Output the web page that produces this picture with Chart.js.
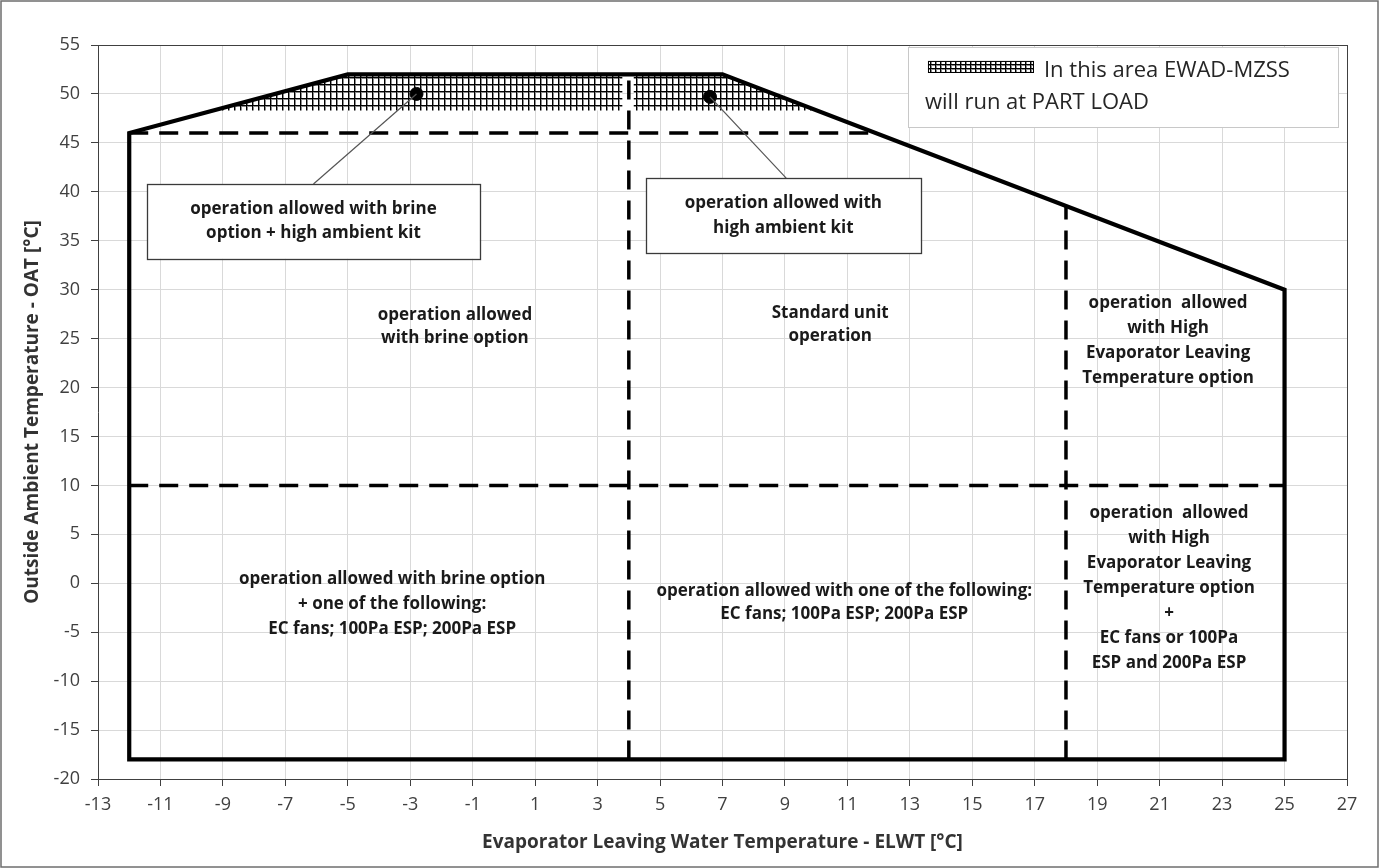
<!DOCTYPE html>
<html>
<head>
<meta charset="utf-8">
<script src="https://cdn.jsdelivr.net/npm/chart.js@4/dist/chart.umd.min.js"></script>
<style>
  html, body { margin: 0; padding: 0; background: #fff; }
  #wrap { width: 1379px; height: 868px; position: relative; }
</style>
</head>
<body>
<div id="wrap"><canvas id="c" width="1379" height="868"></canvas></div>
<script>
// Operating envelope (ELWT [°C] vs OAT [°C])
const envelopeX = [-12, -12, -5, 7, 25, 25, -12];
const envelopeY = [-18, 46, 52, 52, 30, -18, -18];

// Dashed limit lines
const limit46X = [-12, 11.8];
const limit46Y = [46, 46];
const limit10X = [-12, 25];
const limit10Y = [10, 10];
const limitX4X = [4, 4];
const limitX4Y = [-18, 52];
const limitX18X = [18, 18];
const limitX18Y = [-18, 38.6];

// Part-load zones (hatched), filled down to the bottom edge value
const partLoadBase = 48.3;
const partLoadLeftX = [-9.27, -5, 3.8];
const partLoadLeftY = [48.3, 52, 52];
const partLoadRightX = [4.15, 7, 10.03];
const partLoadRightY = [52, 52, 48.3];

// Callout markers
const markerX = [-2.8, 6.6];
const markerY = [50, 49.7];

// Axis ticks
const xTicksMin = -13, xTicksMax = 27, xStep = 2;
const yTicksMin = -20, yTicksMax = 55, yStep = 5;

// Texts
const xTitle = 'Evaporator Leaving Water Temperature - ELWT [°C]';
const yTitle = 'Outside Ambient Temperature - OAT [°C]';
const legendLines = ['In this area EWAD-MZSS', 'will run at PART LOAD'];
const calloutTexts = [
  ['operation allowed with brine', 'option + high ambient kit'],
  ['operation allowed with', 'high ambient kit']
];
const zoneTexts = [
  ['operation allowed', 'with brine option'],
  ['Standard unit', 'operation'],
  ['operation  allowed', 'with High', 'Evaporator Leaving', 'Temperature option'],
  ['operation allowed with brine option', '+ one of the following:', 'EC fans; 100Pa ESP; 200Pa ESP'],
  ['operation allowed with one of the following:', 'EC fans; 100Pa ESP; 200Pa ESP'],
  ['operation  allowed', 'with High', 'Evaporator Leaving', 'Temperature option', '+', 'EC fans or 100Pa', 'ESP and 200Pa ESP']
];

const FONT = '"Open Sans", Lato, sans-serif';
const pts = (xs, ys) => xs.map((x, i) => ({ x: x, y: ys[i] }));

// Layout of text elements, in axis units
const zoneLayout = [
  { x: -1.57, y: 26.25, lh: 23 },
  { x: 10.45, y: 26.45, lh: 23 },
  { x: 21.27, y: 24.75, lh: 25 },
  { x: -3.58, y: -2.1, lh: 25 },
  { x: 10.9, y: -1.95, lh: 23 },
  { x: 21.3, y: -0.45, lh: 25 }
];
const calloutLayout = [
  { x0: -11.43, x1: -0.77, y0: 40.8, y1: 33.15, ax: -6.1, lh: 24 },
  { x0: 4.55, x1: 13.35, y0: 41.4, y1: 33.75, ax: 9.04, lh: 25 }
];
const legendLayout = { x0: 12.94, x1: 26.72, y0: 54.8, y1: 46.6 };

function makeHatch(w, h) {
  const c = document.createElement('canvas');
  c.width = w; c.height = h;
  const g = c.getContext('2d');
  g.fillStyle = '#ffffff';
  g.fillRect(0, 0, w, h);
  g.fillStyle = '#8a8a8a';
  g.fillRect(1, 0, 1, h);
  g.fillRect(0, 1, w, 1);
  g.fillStyle = '#000000';
  g.fillRect(0, 0, 1, h);
  g.fillRect(0, 0, w, 1);
  return g.createPattern(c, 'repeat');
}
const hatch = makeHatch(6, 7);
const hatchSmall = makeHatch(5, 4);

const annotations = {
  id: 'annotations',
  afterDatasetsDraw(chart) {
    const ctx = chart.ctx;
    const xs = chart.scales.x, ys = chart.scales.y;
    const px = v => xs.getPixelForValue(v);
    const py = v => ys.getPixelForValue(v);
    ctx.save();

    // zone labels
    ctx.fillStyle = '#1a1a1a';
    ctx.font = 'bold 17px ' + FONT;
    ctx.textAlign = 'center';
    ctx.textBaseline = 'middle';
    zoneTexts.forEach((lines, k) => {
      const L = zoneLayout[k];
      const cx = px(L.x), cy = py(L.y);
      lines.forEach((t, i) => ctx.fillText(t, cx, cy + (i - (lines.length - 1) / 2) * L.lh));
    });

    // callout leader lines
    ctx.strokeStyle = '#555555';
    ctx.lineWidth = 1.2;
    calloutLayout.forEach((L, k) => {
      ctx.beginPath();
      ctx.moveTo(px(markerX[k]), py(markerY[k]));
      ctx.lineTo(px(L.ax), py(L.y0));
      ctx.stroke();
    });

    // callout boxes
    calloutLayout.forEach((L, k) => {
      const x0 = px(L.x0), x1 = px(L.x1), y0 = py(L.y0), y1 = py(L.y1);
      ctx.fillStyle = '#ffffff';
      ctx.fillRect(x0, y0, x1 - x0, y1 - y0);
      ctx.strokeStyle = '#3a3a3a';
      ctx.lineWidth = 1.3;
      ctx.strokeRect(Math.round(x0) + 0.5, Math.round(y0) + 0.5, Math.round(x1 - x0), Math.round(y1 - y0));
      ctx.fillStyle = '#1a1a1a';
      ctx.font = 'bold 17px ' + FONT;
      const lines = calloutTexts[k];
      const cx = (x0 + x1) / 2, cy = (y0 + y1) / 2;
      lines.forEach((t, i) => ctx.fillText(t, cx, cy + (i - (lines.length - 1) / 2) * L.lh));
    });

    // legend box
    const G = legendLayout;
    const gx0 = px(G.x0), gx1 = px(G.x1), gy0 = py(G.y0), gy1 = py(G.y1);
    ctx.fillStyle = '#ffffff';
    ctx.fillRect(gx0, gy0, gx1 - gx0, gy1 - gy0);
    ctx.strokeStyle = '#c8c8c8';
    ctx.lineWidth = 1;
    ctx.strokeRect(Math.round(gx0) + 0.5, Math.round(gy0) + 0.5, Math.round(gx1 - gx0), Math.round(gy1 - gy0));
    ctx.fillStyle = hatchSmall;
    ctx.fillRect(gx0 + 20, gy0 + 14, 106, 12);
    ctx.strokeStyle = '#000';
    ctx.lineWidth = 1;
    ctx.strokeRect(gx0 + 20.5, gy0 + 14.5, 105, 11);
    ctx.fillStyle = '#262626';
    ctx.font = '22px ' + FONT;
    ctx.textAlign = 'left';
    ctx.fillText(legendLines[0], gx0 + 136, gy0 + 24);
    ctx.fillText(legendLines[1], gx0 + 17, gy0 + 56);

    ctx.restore();
  }
};

const outerFrame = {
  id: 'outerFrame',
  afterDraw(chart) {
    const ctx = chart.ctx;
    ctx.save();
    ctx.strokeStyle = '#6e6e6e';
    ctx.lineWidth = 1.5;
    ctx.strokeRect(1, 1, chart.width - 2, chart.height - 2);
    ctx.restore();
  }
};

const solid = { showLine: true, pointRadius: 0, borderColor: '#000', fill: false, tension: 0 };
const dashed = Object.assign({}, solid, { borderWidth: 3.5, borderDash: [19, 11], borderCapStyle: 'butt' });

new Chart(document.getElementById('c'), {
  type: 'scatter',
  data: {
    datasets: [
      { data: pts(markerX, markerY), pointRadius: 6.5, pointBackgroundColor: '#000', pointBorderColor: '#000', showLine: false },
      Object.assign({}, solid, { data: pts(envelopeX, envelopeY), borderWidth: 4.2, borderJoinStyle: 'miter', borderCapStyle: 'square' }),
      Object.assign({}, dashed, { data: pts(limit46X, limit46Y) }),
      Object.assign({}, dashed, { data: pts(limit10X, limit10Y) }),
      Object.assign({}, dashed, { data: pts(limitX4X, limitX4Y) }),
      Object.assign({}, dashed, { data: pts(limitX18X, limitX18Y) }),
      { data: pts(partLoadLeftX, partLoadLeftY), showLine: true, pointRadius: 0, borderWidth: 0, borderColor: 'rgba(0,0,0,0)', backgroundColor: hatch, fill: { value: partLoadBase } },
      { data: pts(partLoadRightX, partLoadRightY), showLine: true, pointRadius: 0, borderWidth: 0, borderColor: 'rgba(0,0,0,0)', backgroundColor: hatch, fill: { value: partLoadBase } }
    ]
  },
  options: {
    responsive: false,
    animation: false,
    devicePixelRatio: 1,
    layout: { padding: { left: 0, top: 45, right: 32, bottom: 0 } },
    plugins: { legend: { display: false }, tooltip: { enabled: false } },
    scales: {
      x: {
        type: 'linear', min: xTicksMin, max: xTicksMax,
        afterFit: s => { s.height = 89; },
        ticks: { stepSize: xStep, maxTicksLimit: 60, autoSkip: false, maxRotation: 0, padding: 8, color: '#404040', font: { family: FONT, size: 18 } },
        grid: { color: c => (c.tick && c.tick.value === xTicksMax ? '#404040' : '#d9d9d9'), lineWidth: 1, tickLength: 7, tickColor: '#404040' },
        border: { display: true, color: '#404040', width: 1 },
        title: { display: true, text: xTitle, color: '#333333', font: { family: FONT, size: 19, weight: 'bold' }, padding: { top: 0, bottom: 14 } }
      },
      y: {
        type: 'linear', min: yTicksMin, max: yTicksMax,
        afterFit: s => { s.width = 98; },
        ticks: { stepSize: yStep, maxTicksLimit: 60, autoSkip: false, padding: 11, color: '#404040', font: { family: FONT, size: 18 } },
        grid: { color: c => (c.tick && c.tick.value === yTicksMax ? '#404040' : '#d9d9d9'), lineWidth: 1, tickLength: 7, tickColor: '#404040' },
        border: { display: true, color: '#404040', width: 1 },
        title: { display: true, text: yTitle, color: '#333333', font: { family: FONT, size: 19, weight: 'bold' }, padding: { top: 21, bottom: 0 } }
      }
    }
  },
  plugins: [annotations, outerFrame]
});
</script>
</body>
</html>
